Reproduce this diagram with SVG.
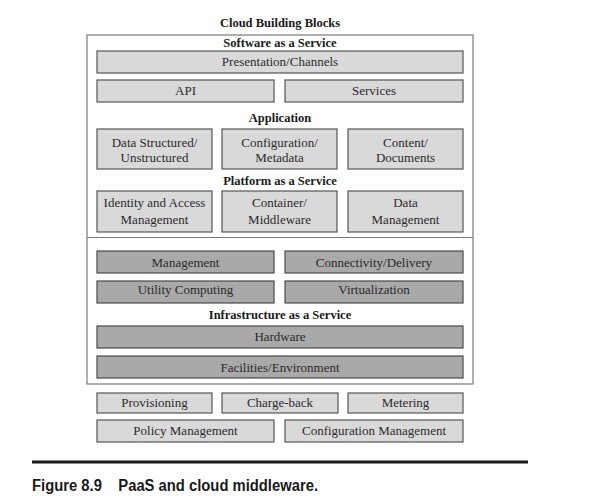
<svg xmlns="http://www.w3.org/2000/svg" width="601" height="501" viewBox="0 0 601 501">
<style>
.bg{fill:#ffffff}
.outer{fill:none;stroke:#7a7a7a;stroke-width:1.2}
.lt{fill:#d9d9d9;stroke:#555555;stroke-width:1.2}
.dk{fill:#a9a9a9;stroke:#4a4a4a;stroke-width:1.2}
.lbl{font-family:"Liberation Serif","Times New Roman",serif;font-size:13px;fill:#2a2a2a;text-anchor:middle}
.hd{font-family:"Liberation Serif","Times New Roman",serif;font-size:12.5px;font-weight:bold;fill:#1a1a1a;text-anchor:middle}
.cap{font-family:"Liberation Sans",Arial,sans-serif;font-size:16px;font-weight:bold;fill:#1a1a1a}
</style>
<rect class="bg" x="0" y="0" width="601" height="501"/>
<text class="hd" x="280" y="27">Cloud Building Blocks</text>
<g id="frame">
<rect class="outer" x="87" y="35" width="386" height="349"/>
<line x1="87" y1="237.5" x2="473" y2="237.5" stroke="#7a7a7a" stroke-width="1.2"/>
</g>
<text class="hd" x="280" y="47">Software as a Service</text>
<g id="presentation"><rect class="lt" x="97" y="51" width="366" height="22"/><text class="lbl" x="280" y="66">Presentation/Channels</text></g>
<g id="api"><rect class="lt" x="97" y="80" width="177" height="22"/><text class="lbl" x="185.5" y="95">API</text></g>
<g id="services"><rect class="lt" x="285" y="80" width="178" height="22"/><text class="lbl" x="374" y="95">Services</text></g>
<text class="hd" x="280" y="122">Application</text>
<g id="data-structured"><rect class="lt" x="97" y="129" width="115" height="40"/><text class="lbl" x="154.5" y="147">Data Structured/</text><text class="lbl" x="154.5" y="162">Unstructured</text></g>
<g id="configuration"><rect class="lt" x="222" y="129" width="115" height="40"/><text class="lbl" x="279.5" y="147">Configuration/</text><text class="lbl" x="279.5" y="162">Metadata</text></g>
<g id="content"><rect class="lt" x="348" y="129" width="115" height="40"/><text class="lbl" x="405.5" y="147">Content/</text><text class="lbl" x="405.5" y="162">Documents</text></g>
<text class="hd" x="280" y="185">Platform as a Service</text>
<g id="identity"><rect class="lt" x="97" y="191" width="115" height="41"/><text class="lbl" x="154.5" y="207">Identity and Access</text><text class="lbl" x="154.5" y="224">Management</text></g>
<g id="container"><rect class="lt" x="222" y="191" width="115" height="41"/><text class="lbl" x="279.5" y="207">Container/</text><text class="lbl" x="279.5" y="224">Middleware</text></g>
<g id="data-management"><rect class="lt" x="348" y="191" width="115" height="41"/><text class="lbl" x="405.5" y="207">Data</text><text class="lbl" x="405.5" y="224">Management</text></g>
<g id="management"><rect class="dk" x="97" y="251" width="177" height="22"/><text class="lbl" x="185.5" y="267">Management</text></g>
<g id="connectivity"><rect class="dk" x="285" y="251" width="178" height="22"/><text class="lbl" x="374" y="267">Connectivity/Delivery</text></g>
<g id="utility"><rect class="dk" x="97" y="281" width="177" height="22"/><text class="lbl" x="185.5" y="294">Utility Computing</text></g>
<g id="virtualization"><rect class="dk" x="285" y="281" width="178" height="22"/><text class="lbl" x="374" y="294">Virtualization</text></g>
<text class="hd" x="280" y="319">Infrastructure as a Service</text>
<g id="hardware"><rect class="dk" x="97" y="326" width="366" height="22"/><text class="lbl" x="280" y="341">Hardware</text></g>
<g id="facilities"><rect class="dk" x="97" y="356" width="366" height="22"/><text class="lbl" x="280" y="372">Facilities/Environment</text></g>
<g id="provisioning"><rect class="lt" x="97" y="393" width="115" height="20"/><text class="lbl" x="154.5" y="407">Provisioning</text></g>
<g id="charge-back"><rect class="lt" x="222" y="393" width="116" height="20"/><text class="lbl" x="280" y="407">Charge-back</text></g>
<g id="metering"><rect class="lt" x="348" y="393" width="115" height="20"/><text class="lbl" x="405.5" y="407">Metering</text></g>
<g id="policy"><rect class="lt" x="97" y="420" width="177" height="22"/><text class="lbl" x="185.5" y="435">Policy Management</text></g>
<g id="config-management"><rect class="lt" x="285" y="420" width="178" height="22"/><text class="lbl" x="374" y="435">Configuration Management</text></g>
<g id="connectors"></g>
<line x1="32" y1="462" x2="528" y2="462" stroke="#1a1a1a" stroke-width="3"/>
<text class="cap" x="32" y="491" textLength="286" lengthAdjust="spacingAndGlyphs" xml:space="preserve">Figure 8.9    PaaS and cloud middleware.</text>
</svg>
